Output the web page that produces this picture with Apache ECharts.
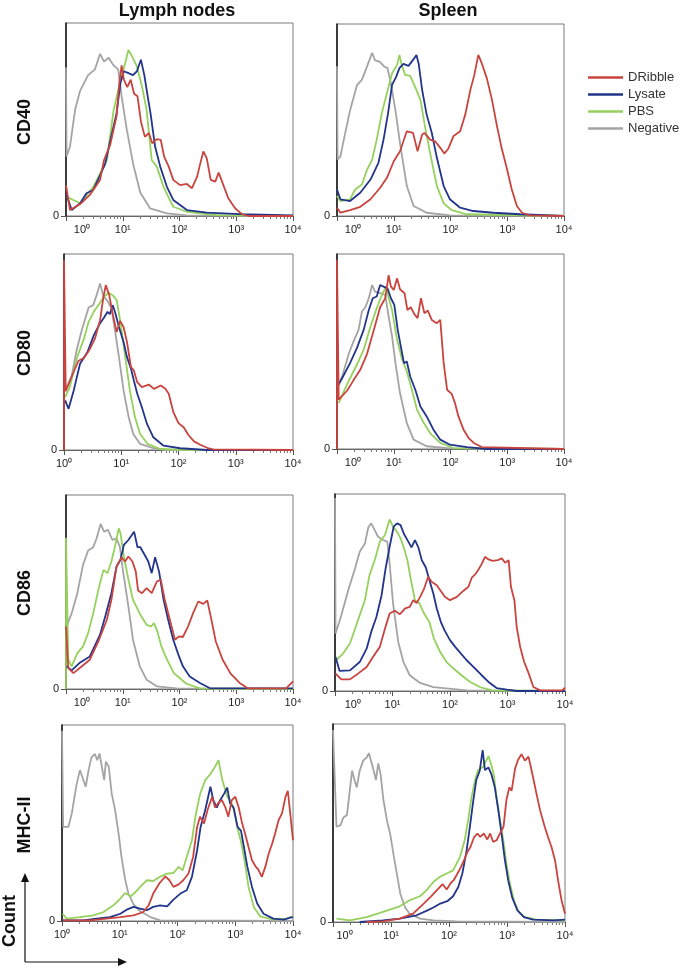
<!DOCTYPE html>
<html>
<head>
<meta charset="utf-8">
<script src="https://cdn.jsdelivr.net/npm/echarts@6/dist/echarts.min.js"></script>
<style>
  html, body { margin: 0; padding: 0; background: #fff; }
  #chart { width: 682px; height: 967px; }
</style>
</head>
<body>
<div id="chart"></div>
<script>
// x = log10 fluorescence, y = % of the panel's max count

// Lymph nodes - CD40
const lnCD40Negative = [[0,77],[0.01,30.8],[0.07,36],[0.16,55],[0.25,65],[0.39,73],[0.51,76],[0.6,84],[0.67,80],[0.75,82],[0.84,78],[0.92,76],[0.98,62],[1.07,45],[1.19,26],[1.31,12],[1.48,4],[1.78,1.4],[2.13,0.3],[4,0]];
const lnCD40PBS = [[0.01,10],[0.25,6.6],[0.48,15],[0.72,29],[0.84,55],[0.95,69],[1.04,79],[1.1,86],[1.16,83],[1.25,77.5],[1.34,67],[1.42,55],[1.51,29],[1.6,25.6],[1.72,15],[1.89,4.8],[2.13,2.2],[2.66,0.5],[4,0]];
const lnCD40Lysate = [[0,11.8],[0.1,3.1],[0.25,6.6],[0.36,11.8],[0.48,13.5],[0.6,21],[0.69,27],[0.78,39],[0.89,53],[0.96,69],[1.02,75],[1.1,74],[1.18,73],[1.25,75],[1.32,81],[1.38,73],[1.44,62],[1.49,53],[1.57,36],[1.66,25.6],[1.78,15],[1.89,8.3],[2.13,3.1],[2.48,1.7],[3.07,1],[4,0.3]];
const lnCD40DRibble = [[0,16],[0.07,3.1],[0.25,6.2],[0.42,10.9],[0.6,18.7],[0.67,29],[0.78,37],[0.89,51.6],[0.94,69],[0.98,78],[1.02,70.6],[1.08,66.8],[1.14,70.6],[1.2,63.3],[1.26,62],[1.32,49],[1.39,41],[1.46,43],[1.52,37.7],[1.6,39.8],[1.67,39.4],[1.73,30.8],[1.81,25.6],[1.89,18.7],[2.01,16],[2.13,16.6],[2.22,14.4],[2.31,20.4],[2.36,26.5],[2.42,33.4],[2.48,30],[2.55,18.7],[2.63,17.8],[2.69,22.5],[2.76,17],[2.86,9.2],[2.98,4],[3.1,1],[3.22,0],[4,0]];

// Spleen - CD40
const spCD40Negative = [[0,78],[0.01,29.4],[0.06,31],[0.12,39.8],[0.23,55],[0.35,68],[0.44,71],[0.53,77.9],[0.62,85],[0.67,81],[0.75,80.4],[0.83,77.9],[0.89,77],[0.95,69],[1.03,55],[1.11,38],[1.23,15.6],[1.35,5.2],[1.58,1.7],[1.99,0.3],[4,0]];
const spCD40PBS = [[0,10.4],[0.06,7.8],[0.23,8.7],[0.32,13.8],[0.44,16.4],[0.53,24.2],[0.62,29.4],[0.7,39.8],[0.79,53.6],[0.88,64],[0.97,74.4],[1.06,78.7],[1.1,83.9],[1.14,78.7],[1.2,73.5],[1.29,73],[1.38,67],[1.47,60.6],[1.55,46.7],[1.64,32.9],[1.76,15.6],[1.88,6.6],[2.02,3.1],[2.29,0.9],[4,0]];
const spCD40Lysate = [[0,13.8],[0.06,8.7],[0.23,7.8],[0.41,12.1],[0.59,19],[0.73,27.7],[0.82,39.8],[0.9,53.6],[0.97,68.3],[1.04,72.3],[1.1,77],[1.17,79.2],[1.26,78.2],[1.35,81.7],[1.4,83.9],[1.44,79.2],[1.5,65.7],[1.58,52.8],[1.67,43.3],[1.76,30.3],[1.88,15.6],[1.99,8.7],[2.17,4.3],[2.4,2.6],[2.76,1.7],[3.23,0.9],[4,0]];
const spCD40DRibble = [[0,4.3],[0.06,1.7],[0.23,3.1],[0.41,4.8],[0.59,8.7],[0.76,14.7],[0.88,19.9],[1.0,28.5],[1.11,33.7],[1.23,44.1],[1.34,43.3],[1.42,33.7],[1.5,42.4],[1.54,43.3],[1.64,39.8],[1.73,38.9],[1.82,35.5],[1.89,32.5],[1.96,35],[2.05,41.5],[2.17,44.1],[2.26,52.8],[2.35,65.7],[2.42,73.5],[2.49,83.9],[2.55,79.6],[2.64,71.8],[2.73,60.6],[2.82,46.7],[2.9,35.5],[2.99,25.1],[3.08,13.8],[3.17,5.2],[3.26,1.7],[3.4,0.3],[4,0]];

// Lymph nodes - CD80
const lnCD80Negative = [[0.02,30.4],[0.13,37.2],[0.22,50.9],[0.31,61.1],[0.43,72.7],[0.51,73.9],[0.58,79.9],[0.63,85],[0.69,78.2],[0.76,76.1],[0.83,72.2],[0.89,61.1],[0.96,47.4],[1.04,30.4],[1.13,16.7],[1.21,8.2],[1.33,3.1],[1.56,1],[1.8,0],[4,0]];
const lnCD80PBS = [[0.02,27],[0.1,32],[0.23,47.4],[0.35,56.8],[0.43,65.4],[0.52,70.5],[0.62,74.7],[0.7,78.2],[0.78,80.2],[0.85,79],[0.92,76.5],[0.99,64.5],[1.07,47.4],[1.15,30.4],[1.24,16.7],[1.33,8.2],[1.46,3.1],[1.68,0.5],[2.15,0],[4,0]];
const lnCD80Lysate = [[0.02,25.3],[0.08,21],[0.17,30.4],[0.28,44],[0.41,50],[0.52,58.5],[0.62,64.2],[0.7,67.6],[0.76,70.5],[0.8,69.3],[0.85,73.9],[0.89,70.5],[0.96,62.8],[1.04,55.1],[1.1,47.4],[1.17,41.5],[1.22,35.5],[1.28,28.7],[1.36,21.8],[1.45,13.3],[1.56,6.5],[1.74,2.2],[2.03,0.9],[2.5,0],[4,0]];
const lnCD80DRibble = [[0,0],[0,97],[0.03,30],[0.05,30.7],[0.13,37.2],[0.25,45.4],[0.35,47.1],[0.44,50.9],[0.54,56.8],[0.63,66.2],[0.69,78.2],[0.73,84.1],[0.79,79],[0.85,69.6],[0.92,60.2],[0.98,65.9],[1.04,62.8],[1.1,55.1],[1.17,42.3],[1.22,40.6],[1.28,34.6],[1.36,32.1],[1.48,33.4],[1.57,31.2],[1.69,32.9],[1.77,31.2],[1.83,28.7],[1.91,19.3],[2.0,13.7],[2.09,11.6],[2.17,7.8],[2.27,4.4],[2.38,2.7],[2.51,1],[2.61,0.3],[4,0]];

// Spleen - CD80
const spCD80Negative = [[0.01,32.1],[0.09,37.2],[0.21,49.1],[0.29,55.1],[0.38,61.1],[0.44,70.5],[0.5,72.7],[0.56,77.3],[0.62,84.1],[0.67,80.7],[0.76,79.9],[0.85,79],[0.91,67.9],[0.97,57.7],[1.03,44],[1.11,28.7],[1.23,13.3],[1.35,4.8],[1.58,1.4],[1.99,0.3],[4,0]];
const spCD80PBS = [[0.03,23.5],[0.12,29.5],[0.23,36.3],[0.35,43.2],[0.47,50.9],[0.59,62.8],[0.7,72.2],[0.79,79],[0.86,82.9],[0.92,76.5],[0.97,71.3],[1.06,56],[1.14,46.6],[1.23,39.8],[1.32,30.4],[1.41,20.1],[1.53,13.3],[1.65,7.8],[1.82,3.1],[2.05,0.5],[4,0]];
const spCD80Lysate = [[0.01,32.1],[0.09,36.3],[0.23,44],[0.35,51.7],[0.47,61.1],[0.56,71.3],[0.63,77.3],[0.7,78.2],[0.76,84.1],[0.82,83.3],[0.89,82.4],[0.95,77.3],[1.01,73.9],[1.07,61.1],[1.13,51.7],[1.18,44],[1.23,44.9],[1.29,37.2],[1.38,30.4],[1.47,21.8],[1.58,16.7],[1.7,9.9],[1.82,4.8],[1.99,2.2],[2.29,1],[2.64,0],[4,0]];
const spCD80DRibble = [[0,0],[0,97],[0.03,25.3],[0.18,30],[0.29,35.2],[0.41,40.6],[0.53,48.8],[0.65,61.1],[0.76,72.7],[0.85,77.3],[0.91,89.2],[0.95,83.3],[1.0,81.6],[1.06,87.5],[1.11,81.9],[1.19,79.9],[1.24,71.3],[1.3,72.7],[1.36,69.3],[1.42,67.1],[1.48,77.3],[1.54,69.6],[1.6,71],[1.67,66.2],[1.76,64.5],[1.82,66.2],[1.88,44],[1.94,30.4],[2.02,28.3],[2.08,23.5],[2.14,16.7],[2.23,9.9],[2.32,5.6],[2.41,3.1],[2.55,1],[4,0]];

// Lymph nodes - CD86
const lnCD86Negative = [[0.01,32.2],[0.1,39.1],[0.2,49.4],[0.3,64],[0.39,71.4],[0.48,73.1],[0.54,77.7],[0.61,85.1],[0.67,81.1],[0.74,82],[0.82,76.8],[0.89,77.7],[0.95,73.1],[1.01,59.7],[1.1,42.5],[1.18,25.4],[1.3,11.7],[1.42,4.8],[1.6,1.4],[1.95,0.3],[4,0]];
const lnCD86PBS = [[0,0],[0,78],[0.04,15.1],[0.1,11.7],[0.2,18.5],[0.3,22],[0.39,28.8],[0.48,39.1],[0.57,51.1],[0.66,61.4],[0.73,59.7],[0.8,65.7],[0.86,73.1],[0.93,82.8],[0.96,80.3],[1.02,68.3],[1.1,56.3],[1.18,46],[1.3,38.8],[1.42,33.1],[1.5,32.2],[1.55,34],[1.61,29.7],[1.68,22],[1.78,15.1],[1.9,8.2],[2.12,2.7],[2.36,0.3],[4,0]];
const lnCD86Lysate = [[0.01,11.7],[0.1,9.6],[0.25,13.7],[0.42,16.8],[0.6,28],[0.7,38.3],[0.8,49.4],[0.89,63.1],[0.96,66.6],[1.02,74.3],[1.1,76.8],[1.2,81.1],[1.26,73.1],[1.31,73.1],[1.37,70],[1.45,65.7],[1.51,59.7],[1.57,67.9],[1.64,60.5],[1.72,46],[1.8,35.7],[1.89,25.4],[1.98,17.7],[2.06,11.7],[2.18,6.5],[2.36,3.1],[2.53,0.5],[4,0.3]];
const lnCD86DRibble = [[0,32.2],[0.04,10.8],[0.13,8.2],[0.28,11.7],[0.42,15.1],[0.57,24.5],[0.72,35.7],[0.8,46],[0.89,63.1],[0.98,67.9],[1.04,65.7],[1.1,68.3],[1.17,65.7],[1.23,60.5],[1.27,50.8],[1.34,49.4],[1.42,52],[1.51,49.4],[1.6,55.4],[1.67,56.3],[1.74,46],[1.83,35.7],[1.92,25.4],[1.99,27.1],[2.06,26.8],[2.15,32.2],[2.24,39.1],[2.33,45.1],[2.42,43.9],[2.49,45.6],[2.55,37.4],[2.64,24.5],[2.76,15.1],[2.9,7.9],[3.06,3.1],[3.21,0.3],[3.88,0.3],[4,3.9]];

// Spleen - CD86
const spCD86Negative = [[0,98],[0.01,29.2],[0.11,38.5],[0.23,51.2],[0.34,61.4],[0.43,70.7],[0.52,74.9],[0.58,83.1],[0.63,85.1],[0.69,81.7],[0.75,78.3],[0.84,76.6],[0.91,75.8],[0.95,64.7],[1.01,44.4],[1.1,24.9],[1.19,14.7],[1.3,8],[1.48,4.1],[1.71,2],[2.29,0.3],[4,0]];
const spCD86PBS = [[0.02,15.6],[0.14,19],[0.26,24.1],[0.34,30.8],[0.43,38.5],[0.52,46.1],[0.6,58.8],[0.69,66.4],[0.78,75.8],[0.87,79.2],[0.95,87.1],[1.01,83.4],[1.08,80.8],[1.14,77.5],[1.2,72.4],[1.26,66.4],[1.31,58],[1.39,46.1],[1.47,44.4],[1.55,39.3],[1.64,35.1],[1.72,26.6],[1.83,19.8],[1.94,14.7],[2.06,11.4],[2.2,8],[2.35,4.6],[2.52,2],[2.73,0.3],[4,0]];
const spCD86Lysate = [[0.01,17.3],[0.08,10.2],[0.26,10.5],[0.43,14.7],[0.55,21.5],[0.63,30],[0.72,37.6],[0.81,48.6],[0.88,62.2],[0.95,73.2],[1.02,83.4],[1.08,85.1],[1.14,84.2],[1.2,79.7],[1.26,76.6],[1.33,72.9],[1.39,76.6],[1.45,72.9],[1.51,66.4],[1.58,62.7],[1.65,55.4],[1.71,49.5],[1.77,41.9],[1.84,35.1],[1.91,30.5],[2.0,25.8],[2.09,22.4],[2.19,19],[2.29,15.6],[2.42,11.9],[2.55,8],[2.67,4.6],[2.81,1.5],[2.99,0.7],[3.16,0],[4,0]];
const spCD86DRibble = [[0.01,8.8],[0.11,5.9],[0.26,5.9],[0.4,8.8],[0.55,12.2],[0.66,17.3],[0.78,22.4],[0.87,31.7],[0.95,39.3],[1.04,40.7],[1.13,39],[1.22,41.9],[1.3,42.7],[1.36,46.1],[1.42,44.7],[1.48,47.8],[1.55,52],[1.62,58],[1.68,55.4],[1.77,53.7],[1.84,50.8],[1.91,47.8],[2.0,46.1],[2.12,47.8],[2.23,50.8],[2.32,52.9],[2.38,57.6],[2.44,59.3],[2.49,61.4],[2.55,64.4],[2.61,68.1],[2.67,66.8],[2.74,66.1],[2.83,66.4],[2.9,67.3],[2.96,65.1],[3.02,66.4],[3.06,52.9],[3.12,46.1],[3.16,32.5],[3.22,22.4],[3.29,14.7],[3.37,8.8],[3.45,2],[3.57,0.3],[3.95,0.3],[4,1.7]];

// Lymph nodes - MHC-II
const lnMHCNegative = [[0,97],[0.02,48],[0.11,48],[0.17,54.9],[0.25,69.3],[0.31,77],[0.37,71.9],[0.41,68.5],[0.46,77],[0.51,83.5],[0.57,85.2],[0.61,82.1],[0.65,85.5],[0.69,78.7],[0.73,71.9],[0.76,81.3],[0.81,78.7],[0.86,65.1],[0.92,56.6],[0.98,44.6],[1.03,32.7],[1.09,21.6],[1.15,14],[1.24,8.5],[1.35,5.1],[1.53,2],[1.7,0.3],[4,0]];
const lnMHCPBS = [[0.01,3.7],[0.08,1.2],[0.31,2],[0.54,2.9],[0.72,4.6],[0.89,8],[1.01,11.4],[1.09,14.3],[1.19,12.6],[1.29,15.3],[1.38,18.2],[1.47,20.8],[1.58,20.4],[1.69,22.5],[1.82,24.2],[1.93,24.5],[2.02,27.6],[2.09,25.9],[2.16,32.7],[2.25,41.2],[2.31,53.2],[2.39,64.7],[2.48,71.9],[2.57,75],[2.65,78.7],[2.71,82.1],[2.77,72.7],[2.86,63.4],[2.92,61.3],[2.98,56.6],[3.04,47.2],[3.1,40.4],[3.16,31],[3.23,17.4],[3.32,7.2],[3.43,2.4],[3.66,0.7],[3.9,1.2],[4,2.4]];
const lnMHCLysate = [[0.02,0.3],[0.37,0.3],[0.6,1.2],[0.83,2],[1.01,3.7],[1.12,5.8],[1.24,7.2],[1.35,6.3],[1.47,5.5],[1.58,7.2],[1.7,8],[1.82,7.5],[1.93,10.9],[2.05,14],[2.16,15.7],[2.25,22.5],[2.34,36.1],[2.4,48],[2.48,56.6],[2.57,68.5],[2.62,61.7],[2.68,57.9],[2.74,61.7],[2.81,65.1],[2.86,68.1],[2.91,60],[2.97,57.9],[3.04,48],[3.1,46],[3.16,36.1],[3.21,27.6],[3.29,17.4],[3.38,8.9],[3.49,3.7],[3.66,1.2],[3.84,0.7],[3.95,1.7],[4,2]];
const lnMHCDRibble = [[0.02,0.3],[0.49,0.3],[0.77,1.2],[1.01,2],[1.24,2.9],[1.41,4.6],[1.5,8],[1.58,14],[1.69,19.4],[1.79,22.8],[1.86,20.8],[1.93,17.4],[2.02,18.7],[2.1,20.8],[2.19,24.2],[2.27,32.7],[2.34,48],[2.39,53.2],[2.46,49.7],[2.52,56.6],[2.6,63.4],[2.65,57.9],[2.71,60.3],[2.77,61.7],[2.83,57.9],[2.88,53.2],[2.94,61.7],[3.0,63.4],[3.06,57.9],[3.12,49.7],[3.17,44.6],[3.23,37.8],[3.29,31],[3.35,27.9],[3.4,26.2],[3.46,22.5],[3.52,27.6],[3.58,34.4],[3.64,39.5],[3.69,44.6],[3.75,51.4],[3.81,54.9],[3.87,63.4],[3.91,66.4],[3.94,58.3],[3.97,49.7],[4,41.2]];

// Spleen - MHC-II
const spMHCNegative = [[0,97],[0.06,48.1],[0.13,48.9],[0.18,52.8],[0.24,54],[0.29,66.6],[0.33,76.4],[0.37,71.7],[0.41,68],[0.46,76.4],[0.52,81.5],[0.58,83.1],[0.62,85.2],[0.66,80.9],[0.7,76.7],[0.74,71.7],[0.78,80.1],[0.82,74.7],[0.87,61.6],[0.93,51.4],[0.99,43.8],[1.05,32.9],[1.11,22.8],[1.16,14.3],[1.24,7.6],[1.32,4.2],[1.5,1.7],[1.73,0.8],[2.13,0.3],[4,0]];
const spMHCPBS = [[0.06,1.7],[0.29,0.8],[0.58,2.5],[0.81,4.6],[0.98,6.2],[1.15,7.9],[1.32,11],[1.5,13],[1.61,16],[1.73,20.2],[1.84,22.8],[1.96,24.5],[2.07,26.1],[2.19,32.9],[2.27,41.3],[2.33,51.4],[2.39,63.2],[2.45,71.7],[2.5,76.7],[2.59,78.4],[2.68,83.8],[2.73,79.3],[2.77,74.7],[2.82,63.2],[2.88,51.4],[2.94,40.5],[2.99,29.5],[3.05,19.4],[3.12,11],[3.19,5.6],[3.31,2.5],[3.51,1.2],[4,0.8]];
const spMHCLysate = [[0.46,0],[0.86,0.8],[1.15,1.7],[1.44,3.4],[1.61,5.6],[1.73,7.3],[1.85,9.3],[1.97,10.5],[2.07,13],[2.16,17.7],[2.23,24.5],[2.3,35.4],[2.36,48.1],[2.42,61.6],[2.47,71.7],[2.53,76.4],[2.58,86.8],[2.62,76.7],[2.68,78.1],[2.73,74.7],[2.79,68],[2.85,56.5],[2.91,43.8],[2.96,32],[3.02,21.1],[3.09,12.3],[3.18,5.9],[3.29,2.5],[3.45,1.2],[3.8,0.8],[4,1.2]];
const spMHCDRibble = [[0.58,0],[0.86,0.3],[1.15,1.7],[1.38,4.2],[1.55,8.9],[1.67,12.3],[1.78,15.7],[1.89,19.1],[1.96,16.4],[2.03,19.7],[2.08,21.1],[2.14,24.1],[2.2,27.5],[2.26,31.2],[2.31,34.9],[2.37,37.9],[2.43,42.7],[2.49,44.7],[2.54,43],[2.6,44.7],[2.66,41.7],[2.71,44.7],[2.76,40.5],[2.82,41.3],[2.88,44.7],[2.94,48.1],[2.99,61.6],[3.04,68],[3.08,66.3],[3.14,77.6],[3.19,81.8],[3.25,84.8],[3.31,81.5],[3.37,83.5],[3.41,78.4],[3.45,73],[3.51,64.6],[3.57,56.5],[3.65,48.1],[3.71,42.7],[3.77,37.6],[3.83,30.9],[3.88,21.1],[3.94,11],[4,4.2]];

const groupNames = ['Negative', 'PBS', 'Lysate', 'DRibble'];
const legendOrder = ['DRibble', 'Lysate', 'PBS', 'Negative'];
const decadeLabels = ['10⁰', '10¹', '10²', '10³', '10⁴'];
const rowLabels = ['CD40', 'CD80', 'CD86', 'MHC-II'];

const colors = {
  DRibble: '#c9443f',
  Lysate: '#22358a',
  PBS: '#95d15c',
  Negative: '#a4a4a4'
};

const panels = [
  { rect: [66, 23, 227, 193], zeroAt: 0.28, data: [lnCD40Negative, lnCD40PBS, lnCD40Lysate, lnCD40DRibble] },
  { rect: [337, 24, 227, 192], zeroAt: 0.28, data: [spCD40Negative, spCD40PBS, spCD40Lysate, spCD40DRibble] },
  { rect: [64, 254, 229, 196], zeroAt: 0, data: [lnCD80Negative, lnCD80PBS, lnCD80Lysate, lnCD80DRibble] },
  { rect: [337, 254, 227, 195], zeroAt: 0.28, data: [spCD80Negative, spCD80PBS, spCD80Lysate, spCD80DRibble] },
  { rect: [66, 495, 227, 194], zeroAt: 0.28, data: [lnCD86Negative, lnCD86PBS, lnCD86Lysate, lnCD86DRibble] },
  { rect: [335, 494, 230, 197], zeroAt: 0.31, data: [spCD86Negative, spCD86PBS, spCD86Lysate, spCD86DRibble] },
  { rect: [62, 725, 231, 196], zeroAt: 0, data: [lnMHCNegative, lnMHCPBS, lnMHCLysate, lnMHCDRibble] },
  { rect: [333, 724, 232, 198], zeroAt: 0.2, data: [spMHCNegative, spMHCPBS, spMHCLysate, spMHCDRibble] }
];

// minor ticks at 2..9 x 10^n
const minorTicks = [];
for (let n = 0; n < 4; n++) {
  for (let k = 2; k <= 9; k++) minorTicks.push(n + Math.log10(k));
}

const grids = [], xAxes = [], yAxes = [], series = [];

panels.forEach((p, i) => {
  grids.push({
    left: p.rect[0], top: p.rect[1], width: p.rect[2], height: p.rect[3],
    show: true, borderColor: '#7a7a7a', borderWidth: 1, backgroundColor: 'transparent'
  });
  xAxes.push({
    gridIndex: i, type: 'value', min: 0, max: 4, position: 'bottom',
    splitLine: { show: false },
    axisLine: { show: true, lineStyle: { color: '#666', width: 1 } },
    axisTick: { show: true, customValues: [0, 1, 2, 3, 4], length: 5, lineStyle: { color: '#555' } },
    axisLabel: {
      customValues: [p.zeroAt, 1, 2, 3, 4],
      formatter: v => decadeLabels[Math.round(v)],
      fontSize: 11, color: '#222', fontFamily: 'Liberation Sans', margin: 8
    }
  });
  xAxes.push({
    gridIndex: i, type: 'value', min: 0, max: 4, position: 'bottom',
    splitLine: { show: false },
    axisLine: { show: false },
    axisLabel: { show: false },
    axisTick: { show: true, customValues: minorTicks, length: 3, lineStyle: { color: '#777' } }
  });
  yAxes.push({
    gridIndex: i, type: 'value', min: 0, max: 100,
    splitLine: { show: false },
    axisLine: { show: true, lineStyle: { color: '#111', width: 1.5 } },
    axisTick: { show: true, customValues: [0], length: 5, lineStyle: { color: '#555' } },
    axisLabel: { customValues: [0], fontSize: 11, color: '#222', fontFamily: 'Liberation Sans', margin: 7 }
  });
  p.data.forEach((d, j) => {
    const name = groupNames[j];
    series.push({
      name: name,
      type: 'line',
      xAxisIndex: i * 2,
      yAxisIndex: i,
      data: d,
      showSymbol: false,
      symbol: 'none',
      clip: true,
      z: 2 + j,
      lineStyle: { color: colors[name], width: 1.8 },
      itemStyle: { color: colors[name] }
    });
  });
});

const boldFont = 'bold 18px "Liberation Sans", Arial, sans-serif';
const graphics = [
  { type: 'text', x: 177, y: 11, style: { text: 'Lymph nodes', font: boldFont, fill: '#111', align: 'center', verticalAlign: 'middle' } },
  { type: 'text', x: 448, y: 11, style: { text: 'Spleen', font: boldFont, fill: '#111', align: 'center', verticalAlign: 'middle' } },
  { type: 'text', x: 25, y: 122, rotation: Math.PI / 2, style: { text: rowLabels[0], font: boldFont, fill: '#111', align: 'center', verticalAlign: 'middle' } },
  { type: 'text', x: 25, y: 353, rotation: Math.PI / 2, style: { text: rowLabels[1], font: boldFont, fill: '#111', align: 'center', verticalAlign: 'middle' } },
  { type: 'text', x: 25, y: 593, rotation: Math.PI / 2, style: { text: rowLabels[2], font: boldFont, fill: '#111', align: 'center', verticalAlign: 'middle' } },
  { type: 'text', x: 25, y: 825, rotation: Math.PI / 2, style: { text: rowLabels[3], font: boldFont, fill: '#111', align: 'center', verticalAlign: 'middle' } },
  { type: 'text', x: 10, y: 921, rotation: Math.PI / 2, style: { text: 'Count', font: boldFont, fill: '#111', align: 'center', verticalAlign: 'middle' } },
  // count arrows
  { type: 'polyline', shape: { points: [[25, 962], [25, 880]] }, style: { stroke: '#111', lineWidth: 1.2, fill: null } },
  { type: 'polygon', shape: { points: [[25, 873], [21, 882], [29, 882]] }, style: { fill: '#111' } },
  { type: 'polyline', shape: { points: [[25, 962], [120, 962]] }, style: { stroke: '#111', lineWidth: 1.2, fill: null } },
  { type: 'polygon', shape: { points: [[127, 962], [118, 958], [118, 966]] }, style: { fill: '#111' } }
];

const chart = echarts.init(document.getElementById('chart'), null, { renderer: 'canvas' });
chart.setOption({
  animation: false,
  backgroundColor: '#fff',
  legend: {
    data: legendOrder,
    orient: 'vertical',
    left: 583,
    top: 66,
    icon: 'rect',
    itemWidth: 35,
    itemHeight: 2.5,
    itemGap: 4,
    textStyle: { fontSize: 13, color: '#333', fontFamily: 'Liberation Sans' }
  },
  grid: grids,
  xAxis: xAxes,
  yAxis: yAxes,
  series: series,
  graphic: graphics
});
</script>
</body>
</html>
